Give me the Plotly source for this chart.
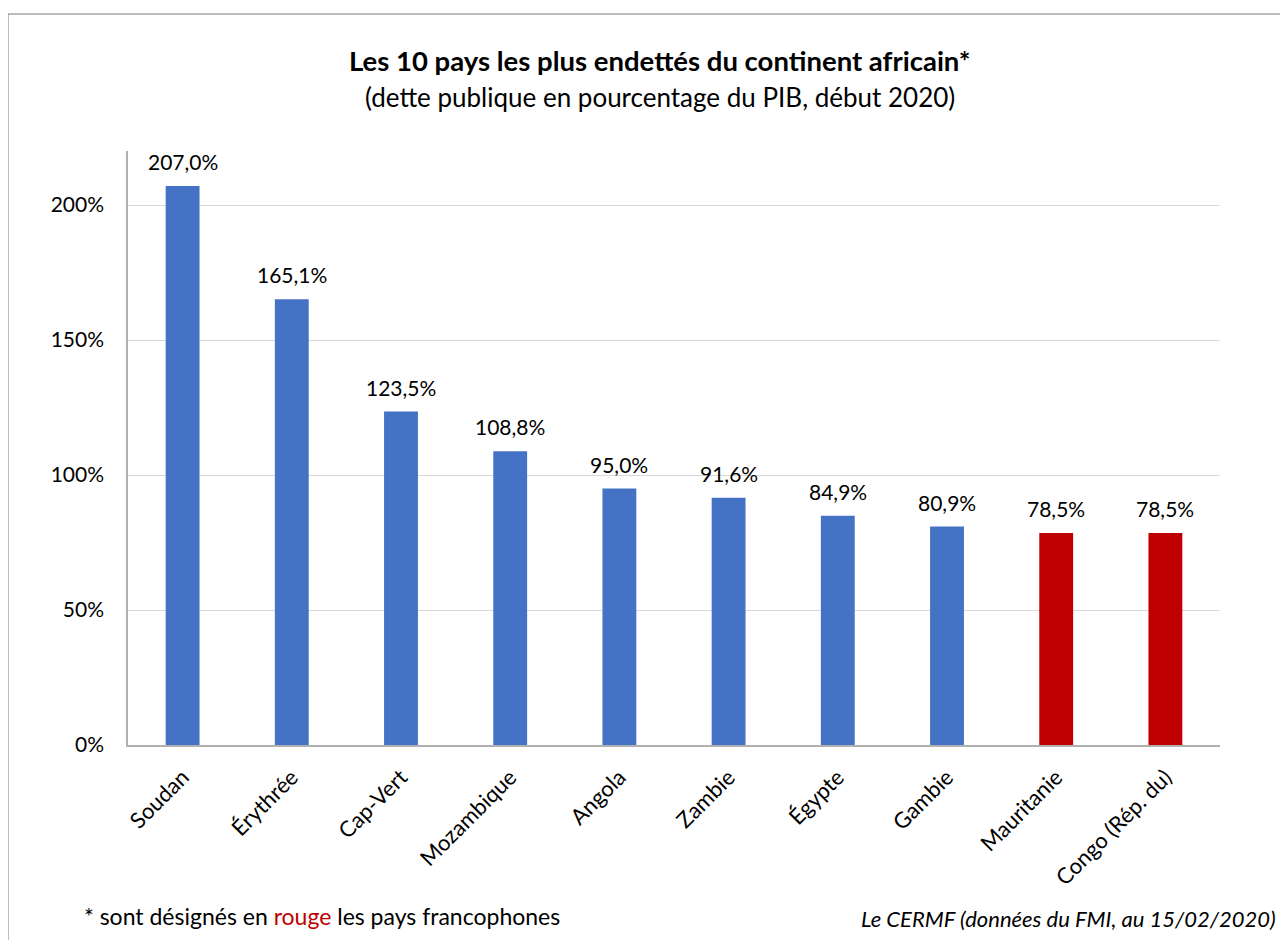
import plotly.graph_objects as go

countries = ["Soudan", "Érythrée", "Cap-Vert", "Mozambique", "Angola", "Zambie",
             "Égypte", "Gambie", "Mauritanie", "Congo (Rép. du)"]
debt_pct = [207.0, 165.1, 123.5, 108.8, 95.0, 91.6, 84.9, 80.9, 78.5, 78.5]
francophone = [False, False, False, False, False, False, False, False, True, True]
y_ticks = [0, 50, 100, 150, 200]

BLUE = "#4472C4"
RED = "#C00000"
FONT = "Lato, 'Open Sans', sans-serif"

# page body has an 8px margin; work in figure coordinates
W, H = 1280, 932
L, R, T, B = 120, 68, 143, 195
pw, ph = W - L - R, H - T - B


def px(x):
    return (x - L) / pw


def py(y):
    return (H - B - y) / ph


labels = [f"{v:.1f}".replace(".", ",") + "%" for v in debt_pct]
colors = [RED if f else BLUE for f in francophone]

fig = go.Figure(go.Bar(
    x=countries, y=debt_pct, marker=dict(color=colors, line=dict(width=0)),
))

value_labels = [
    dict(x=c, y=v, xref="x", yref="y", text=t, showarrow=False, yanchor="bottom",
         yshift=10, font=dict(size=21, color="#000000"))
    for c, v, t in zip(countries, debt_pct, labels)
]

fig.update_layout(
    width=W, height=H, margin=dict(l=L, r=R, t=T, b=B),
    paper_bgcolor="white", plot_bgcolor="white",
    font=dict(family=FONT, color="#000000"),
    bargap=0.69, showlegend=False,
    xaxis=dict(tickangle=-45, tickfont=dict(size=22), showline=True, linecolor="#b0b0b0",
               linewidth=1.5, ticks="", showgrid=False, ticklabelstandoff=9),
    yaxis=dict(range=[0, 220], tickvals=y_ticks, ticktext=[f"{t}%" for t in y_ticks],
               tickfont=dict(size=21), showgrid=True, gridcolor="#d9d9d9", gridwidth=1.2,
               showline=True, linecolor="#b0b0b0", linewidth=1.5, zeroline=False, ticks="",
               ticklabelstandoff=18),
    shapes=[dict(type="rect", xref="paper", yref="paper", x0=px(0), x1=px(1300),
                 y0=py(6), y1=py(960), line=dict(color="#a6a6a6", width=1.5),
                 fillcolor="rgba(0,0,0,0)", layer="below")],
    annotations=value_labels + [
        dict(text="<b>Les 10 pays les plus endettés du continent africain*</b>",
             xref="paper", yref="paper", x=px(652), y=py(52), showarrow=False,
             font=dict(size=27.5), xanchor="center", yanchor="middle"),
        dict(text="(dette publique en pourcentage du PIB, début 2020)",
             xref="paper", yref="paper", x=px(652), y=py(89), showarrow=False,
             font=dict(size=26), xanchor="center", yanchor="middle"),
        dict(text=f"* sont désignés en <span style='color:{RED}'>rouge</span> les pays francophones",
             xref="paper", yref="paper", x=px(74), y=py(908), showarrow=False,
             font=dict(size=23), xanchor="left", yanchor="middle"),
        dict(text="<i>Le CERMF (données du FMI, au 15/02/2020)</i>",
             xref="paper", yref="paper", x=px(1270), y=py(910), showarrow=False,
             font=dict(size=22), xanchor="right", yanchor="middle"),
    ],
)

fig.write_html("out.html")
